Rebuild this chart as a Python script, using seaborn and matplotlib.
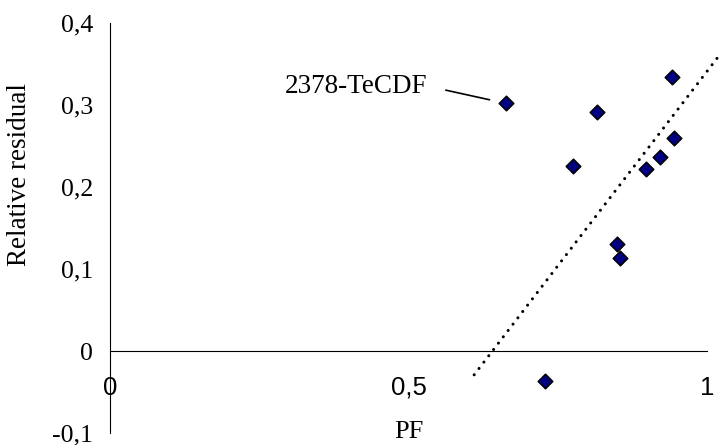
import numpy as np
import pandas as pd
import seaborn as sns
import matplotlib.pyplot as plt
from matplotlib.ticker import FuncFormatter

# valores
pf = [0.663, 0.816, 0.941, 0.944, 0.921, 0.897, 0.776, 0.850, 0.854, 0.729]
residual = [0.302, 0.292, 0.334, 0.260, 0.236, 0.222, 0.226, 0.131, 0.114, -0.037]
labeled = "2378-TeCDF"   # primer punto
trend_x = [0.610, 1.020]
trend_y = [-0.029, 0.360]
x_ticks = [0, 0.5, 1]
y_ticks = [-0.1, 0, 0.1, 0.2, 0.3, 0.4]

df = pd.DataFrame({"PF": pf, "residual": residual})

sns.set_style("white")
serif = ["Liberation Serif", "DejaVu Serif"]
sans = ["Liberation Sans", "DejaVu Sans"]
plt.rcParams["font.family"] = serif
plt.rcParams.update({"text.color": "black", "axes.labelcolor": "black",
                     "xtick.color": "black", "ytick.color": "black"})

fig = plt.figure(figsize=(7.19, 4.45), dpi=100)
ax = fig.add_axes([110 / 719, 12 / 445, 597 / 719, 410 / 445])

sns.scatterplot(data=df, x="PF", y="residual", marker="D", s=55,
                color="#000080", edgecolor="black", linewidth=1.1, ax=ax, zorder=3)

# linea de tendencia punteada
sns.lineplot(x=trend_x, y=trend_y, color="black", lw=2.2,
             linestyle=(0, (0.01, 2.6)), dash_capstyle="round", ax=ax,
             clip_on=False, zorder=2)

ax.annotate(labeled, xy=(pf[0], residual[0]), xytext=(0.532, 0.323),
            ha="right", va="center", fontsize=19.5, family=serif, color="black",
            arrowprops=dict(arrowstyle="-", color="black", lw=1.2,
                            relpos=(1, 0.5), shrinkA=11, shrinkB=12))

ax.set_xlim(0, 1)
ax.set_ylim(-0.1, 0.4)
ax.spines["left"].set_position(("data", 0))
ax.spines["bottom"].set_position(("data", 0))
ax.spines["top"].set_visible(False)
ax.spines["right"].set_visible(False)
for s in ["left", "bottom"]:
    ax.spines[s].set_color("black")
    ax.spines[s].set_linewidth(0.8)

ax.set_xticks(x_ticks)
ax.set_yticks(y_ticks)
fmt = FuncFormatter(lambda v, p: f"{v:g}".replace(".", ","))
ax.xaxis.set_major_formatter(fmt)
ax.yaxis.set_major_formatter(fmt)
ax.tick_params(axis="both", direction="out", length=5, width=0.8,
               color="black", labelcolor="black")
ax.tick_params(axis="x", pad=13, labelsize=18.5, labelfontfamily=sans)
ax.tick_params(axis="y", pad=7, labelsize=18.5, labelfontfamily=serif)

ax.set_xlabel("PF", fontsize=19, color="black")
ax.set_ylabel("Relative residual", fontsize=19.5, color="black")
ax.xaxis.set_label_coords(0.5, 0.002)
ax.xaxis.label.set_va("center")
ax.yaxis.set_label_coords(-0.152, 0.63)
ax.yaxis.label.set_va("center")

fig.savefig("out.png", dpi=100)
